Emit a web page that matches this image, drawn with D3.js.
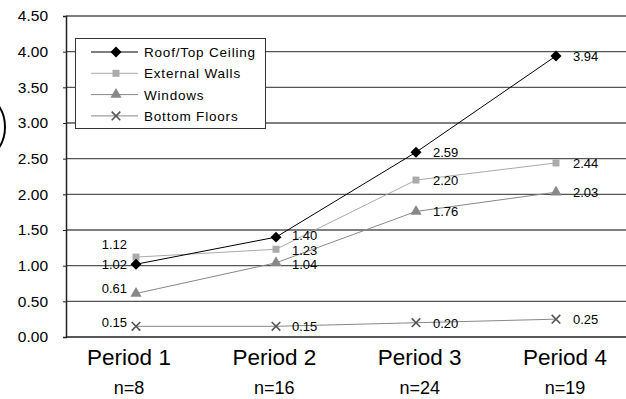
<!DOCTYPE html>
<html><head><meta charset="utf-8">
<script src="https://cdn.jsdelivr.net/npm/d3@7"></script>
<style>body{margin:0;background:#fff}svg{display:block;font-family:Arial,"Liberation Sans",sans-serif}</style>
</head><body><svg id="c" width="626" height="399"></svg>
<script>
const categories = ["Period 1","Period 2","Period 3","Period 4"];
const sampleSizes = ["n=8","n=16","n=24","n=19"];
const seriesNames = ["Roof/Top Ceiling","External Walls","Windows","Bottom Floors"];
const roof = [1.02,1.40,2.59,3.94];
const walls = [1.12,1.23,2.20,2.44];
const windows = [0.61,1.04,1.76,2.03];
const floors = [0.15,0.15,0.20,0.25];
const yTicks = [0,0.5,1,1.5,2,2.5,3,3.5,4,4.5];

const svg = d3.select("#c");
const L=66,R=626,T=16,B=337;
const x = d3.scaleBand().domain(categories).range([L,R]);
const xl = d3.scalePoint().domain(categories).range([129,565]);
const y = d3.scaleLinear().domain([0,4.5]).range([B,T]);
const cx = c => x(c)+x.bandwidth()/2;

// partial ellipse at left edge
svg.append("ellipse").attr("cx",-22).attr("cy",127).attr("rx",27).attr("ry",33)
  .attr("fill","none").attr("stroke","#000").attr("stroke-width",2);

// gridlines
svg.append("g").selectAll("line").data(yTicks.filter(d=>d>0)).join("line")
  .attr("x1",L).attr("x2",R).attr("y1",d=>y(d)).attr("y2",d=>y(d))
  .attr("stroke","#555").attr("stroke-width",1.4);

// y axis
const ya = svg.append("g").attr("transform",`translate(${L},0)`)
  .call(d3.axisLeft(y).tickValues(yTicks).tickFormat(d3.format(".2f")).tickSize(3).tickPadding(15));
ya.select(".domain").attr("stroke","#222").attr("stroke-width",1.5);
ya.selectAll(".tick line").attr("stroke","#222");
ya.selectAll("text").attr("font-size",15.5).attr("fill","#000").attr("font-family","Arial,'Liberation Sans',sans-serif");

// x axis line
svg.append("line").attr("x1",L).attr("x2",R).attr("y1",B).attr("y2",B).attr("stroke","#222").attr("stroke-width",1.5);

// category labels
svg.append("g").selectAll("text").data(categories).join("text")
  .attr("x",d=>xl(d)).attr("y",365).attr("text-anchor","middle").attr("font-size",22.5).text(d=>d);
svg.append("g").selectAll("text").data(categories).join("text")
  .attr("x",(d,i)=>xl(d)).attr("y",394).attr("text-anchor","middle").attr("font-size",18).text((d,i)=>sampleSizes[i]);

const diamond = {draw(ctx,size){const r=Math.sqrt(size/2);ctx.moveTo(0,-r);ctx.lineTo(r,0);ctx.lineTo(0,r);ctx.lineTo(-r,0);ctx.closePath();}};
const series = [
 {name:seriesNames[0],vals:roof,line:"#000",mark:"#000",sym:diamond,size:60,
  off:[[-9,5,"end"],[16,3,"start"],[17,5,"start"],[17,5,"start"]]},
 {name:seriesNames[1],vals:walls,line:"#aaa",mark:"#aaa",sym:d3.symbolSquare,size:49,
  off:[[-9,-8,"end"],[16,6,"start"],[17,5,"start"],[17,5,"start"]]},
 {name:seriesNames[2],vals:windows,line:"#888",mark:"#888",sym:d3.symbolTriangle,size:55,
  off:[[-9,0,"end"],[16,6,"start"],[17,5,"start"],[17,5,"start"]]},
 {name:seriesNames[3],vals:floors,line:"#888",mark:"#555",sym:d3.symbolX,size:50,
  off:[[-9,1,"end"],[16,5,"start"],[17,5,"start"],[17,5,"start"]]}
];
const line = d3.line().x((d,i)=>cx(categories[i])).y(d=>y(d));
const drawOrder=[3,2,1,0];
drawOrder.forEach(k=>{
  const s=series[k];
  svg.append("path").attr("d",line(s.vals)).attr("fill","none").attr("stroke",s.line).attr("stroke-width",1);
});
function marker(g,s,px,py){
  const p=g.append("path").attr("transform",`translate(${px},${py})`)
    .attr("d",d3.symbol(s.sym,s.size)());
  if(s.sym===d3.symbolX) p.attr("fill","none").attr("stroke",s.mark).attr("stroke-width",1.6);
  else p.attr("fill",s.mark);
}
drawOrder.forEach(k=>{
  const s=series[k];
  s.vals.forEach((v,i)=>marker(svg,s,cx(categories[i]),y(v)));
  s.vals.forEach((v,i)=>{
    const o=s.off[i];
    svg.append("text").attr("x",cx(categories[i])+o[0]).attr("y",y(v)+o[1])
      .attr("text-anchor",o[2]).attr("font-size",13).attr("fill","#000").text(d3.format(".2f")(v));
  });
});

// legend
const lg = svg.append("g");
lg.append("rect").attr("x",75.5).attr("y",38.5).attr("width",190).attr("height",90)
  .attr("fill","#fff").attr("stroke","#333").attr("stroke-width",1);
series.forEach((s,i)=>{
  const ly=52+i*21.3;
  lg.append("line").attr("x1",91).attr("x2",138).attr("y1",ly).attr("y2",ly).attr("stroke",s.line).attr("stroke-width",1);
  marker(lg,s,116,ly);
  lg.append("text").attr("x",144).attr("y",ly+5).attr("font-size",13.5).attr("letter-spacing",0.8).attr("fill","#000").text(s.name);
});
</script></body></html>
